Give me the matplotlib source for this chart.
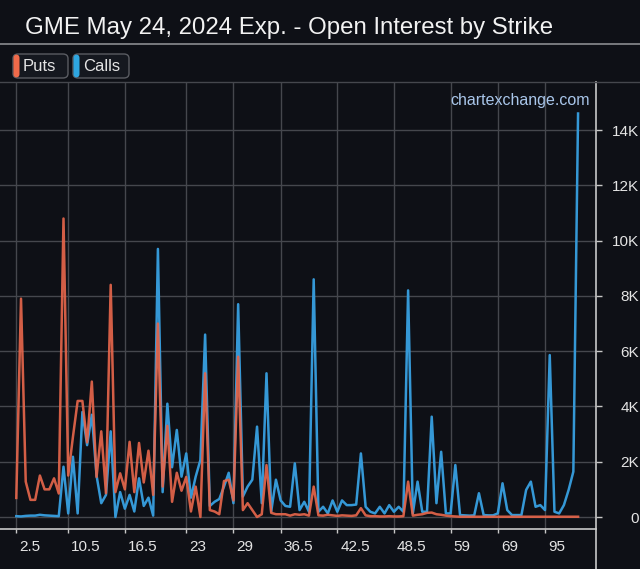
import matplotlib
matplotlib.use("Agg")
import matplotlib.pyplot as plt
import matplotlib.transforms as mtransforms
from matplotlib.patches import FancyBboxPatch
from matplotlib.lines import Line2D
from matplotlib.ticker import FuncFormatter

plt.rcParams['font.family'] = ['Liberation Sans', 'DejaVu Sans']

# strikes (categorical x axis)
strikes = [2.5, 3, 3.5, 4, 4.5, 5, 6, 7, 8, 9, 10, 10.5,
           11, 11.5, 12, 12.5, 13, 13.5, 14, 14.5, 15, 15.5, 16, 16.5,
           17, 17.5, 18, 18.5, 19, 19.5, 20, 20.5, 21, 21.5, 22, 22.5, 23,
           23.5, 24, 24.5, 25, 25.5, 26, 26.5, 27, 28, 29,
           29.5, 30, 31, 32, 33, 34, 35, 35.5, 36, 36.5,
           37, 37.5, 38, 38.5, 39, 39.5, 40, 40.5, 41, 41.5, 42, 42.5,
           43, 43.5, 44, 44.5, 45, 45.5, 46, 46.5, 47, 47.5, 48, 48.5,
           49, 49.5, 50, 51, 52, 53, 54, 55, 56, 57, 58, 59,
           60, 61, 62, 63, 64, 65, 66, 67, 68, 69,
           70, 71, 72, 73, 74, 75, 80, 85, 90, 95,
           100, 105, 110, 115, 120, 125, 130]

label_strikes = [2.5, 10.5, 16.5, 23, 29, 36.5, 42.5, 48.5, 59, 69, 95]

puts = [690, 7900, 1280, 620, 620, 1500, 1000, 1000, 1400, 850,
        10800, 1500, 2900, 4200, 4200, 2700, 4900, 1450, 3100, 860,
        8400, 900, 1580, 1000, 2720, 900, 2680, 1250, 2400, 800,
        7000, 1100, 3300, 550, 1600, 950, 1450, 200, 1100, 0,
        5200, 250, 200, 100, 1300, 1350, 600, 5800, 250, 500,
        250, 0, 100, 1880, 150, 100, 100, 100, 50, 100,
        80, 100, 50, 1100, 60, 50, 80, 60, 40, 60,
        50, 40, 60, 320, 60, 30, 30, 20, 20, 30,
        20, 20, 30, 1280, 50, 80, 100, 150, 160, 100,
        80, 50, 30, 20, 10, 10, 10, 10, 10, 10,
        10, 10, 10, 10, 10, 10, 10, 10, 10, 10,
        10, 10, 10, 10, 10, 10, 10, 10, 10, 10]

calls = [30, 20, 40, 50, 50, 80, 60, 50, 40, 30,
         1820, 130, 2180, 130, 3800, 2600, 3700, 1500, 500, 800,
         3100, 0, 900, 300, 800, 200, 1400, 400, 700, 50,
         9700, 900, 4100, 1800, 3150, 1460, 2300, 700, 1460, 2060,
         6600, 400, 550, 650, 1100, 1600, 500, 7700, 740, 1100,
         1350, 3270, 500, 5200, 200, 1350, 600, 400, 370, 1940,
         250, 550, 190, 8600, 190, 370, 130, 600, 190, 600,
         430, 430, 450, 2300, 370, 190, 130, 370, 130, 430,
         190, 370, 190, 8200, 130, 1280, 190, 190, 3630, 500,
         2360, 130, 130, 1880, 70, 60, 50, 60, 860, 70,
         60, 60, 130, 1220, 250, 70, 70, 70, 980, 1280,
         370, 430, 250, 5860, 190, 130, 430, 980, 1640, 14600]

bg = '#0e1016'
grid_c = '#45474d'
text_c = '#e4e4e4'
put_c = '#e5664b'
call_c = '#3598d6'

fig = plt.figure(figsize=(6.4, 5.69), dpi=100, facecolor=bg)
ax = fig.add_axes([0, 1 - 529 / 569, 596 / 640, (529 - 82) / 569], facecolor=bg)

xs = list(range(len(strikes)))
ax.plot(xs, calls, color=call_c, lw=1.8, zorder=3)
ax.plot(xs, puts, color=put_c, lw=1.8, alpha=0.92, zorder=4)

ax.set_xlim(-3.45, 122.8)
ax.set_ylim(-434, 15740)

tick_idx = [strikes.index(s) for s in label_strikes]
ax.set_xticks(tick_idx)
ax.set_xticklabels([f"{s:g}" for s in label_strikes])
ax.set_yticks(range(0, 14001, 2000))
ax.yaxis.set_major_formatter(FuncFormatter(lambda v, p: '0' if v == 0 else f"{int(v / 1000)}K"))
ax.yaxis.tick_right()

ax.grid(True, color=grid_c, lw=1.0, zorder=0)
ax.tick_params(axis='x', colors='#c8c8c8', labelcolor=text_c, length=3, width=1, labelsize=11, pad=5)
ax.tick_params(axis='y', colors='#c8c8c8', labelcolor=text_c, length=4, width=1, labelsize=11, pad=27)
for lab in ax.get_yticklabels():
    lab.set_horizontalalignment('right')
offset = mtransforms.ScaledTranslation(3 / 100, 0, fig.dpi_scale_trans)
for lab in ax.get_xticklabels():
    lab.set_horizontalalignment('left')
    lab.set_transform(lab.get_transform() + offset)

for side in ['top', 'left']:
    ax.spines[side].set_visible(False)
ax.spines['bottom'].set_color('#c8c8c8')
ax.spines['right'].set_color('#c8c8c8')
ax.spines['bottom'].set_linewidth(1.2)
ax.spines['right'].set_linewidth(1.2)

# frame lines outside the axes
W, H = 640, 569
fig.add_artist(Line2D([0, 1], [1 - 44 / H, 1 - 44 / H], color='#8a8c90', lw=1.2))
fig.add_artist(Line2D([0, 1], [1 - 82 / H, 1 - 82 / H], color=grid_c, lw=1.0))
fig.add_artist(Line2D([596 / W, 596 / W], [0, 1 - 529 / H], color='#c8c8c8', lw=1.2))

fig.text(25 / W, 1 - 28 / H, "GME May 24, 2024 Exp. - Open Interest by Strike",
         color='#f2f2f2', fontsize=17.3, va='center', ha='left')

# legend buttons
def legend_button(x0, x1, label, col):
    box = FancyBboxPatch((x0 / W, 1 - 78 / H), (x1 - x0) / W, 24 / H,
                         boxstyle="round,pad=0,rounding_size=0.008",
                         transform=fig.transFigure, facecolor='#15181f',
                         edgecolor='#5a5c62', lw=1.0)
    fig.add_artist(box)
    stripe = FancyBboxPatch((x0 / W + 0.5 / W, 1 - 77.5 / H), 6 / W, 23 / H,
                            boxstyle="round,pad=0,rounding_size=0.006",
                            transform=fig.transFigure, facecolor=col, edgecolor='none')
    fig.add_artist(stripe)
    fig.text((x0 + 10) / W, 1 - 66 / H, label, color=text_c, fontsize=12,
             va='center', ha='left')

legend_button(13, 68, "Puts", '#f06a4a')
legend_button(73, 129, "Calls", '#2ea6e0')

ax.text(0.99, 0.975, "chartexchange.com", transform=ax.transAxes, color='#a9c6ea',
        fontsize=11.5, ha='right', va='top')

fig.savefig("out.png", dpi=100, facecolor=bg)
